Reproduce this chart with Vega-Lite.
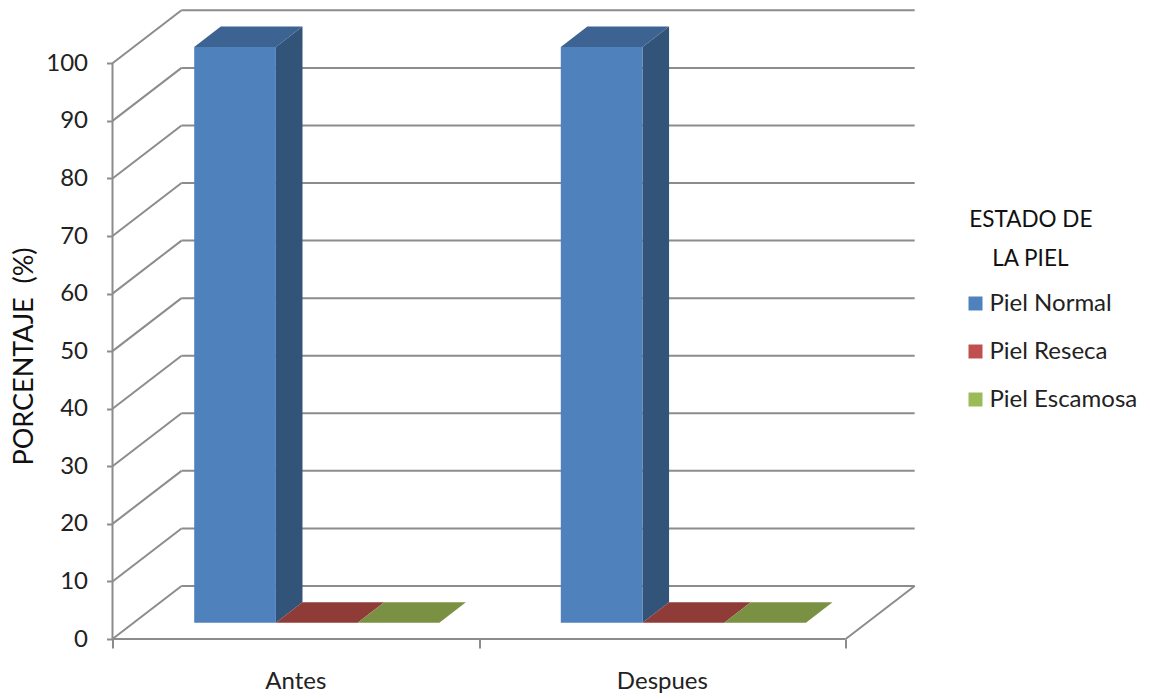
{
  "$schema": "https://vega.github.io/schema/vega-lite/v6.json",
  "width": 803.5,
  "height": 629,
  "autosize": {"type": "none"},
  "padding": {"left": 112.5, "top": 10, "right": 234, "bottom": 61},
  "background": "white",
  "datasets": {
    "barras": [
      {"momento": "Antes", "estado": "Piel Normal", "valor": 100},
      {"momento": "Antes", "estado": "Piel Reseca", "valor": 0},
      {"momento": "Antes", "estado": "Piel Escamosa", "valor": 0},
      {"momento": "Despues", "estado": "Piel Normal", "valor": 100},
      {"momento": "Despues", "estado": "Piel Reseca", "valor": 0},
      {"momento": "Despues", "estado": "Piel Escamosa", "valor": 0}
    ],
    "marcas": [
      {"valor": 0}, {"valor": 10}, {"valor": 20}, {"valor": 30}, {"valor": 40}, {"valor": 50},
      {"valor": 60}, {"valor": 70}, {"valor": 80}, {"valor": 90}, {"valor": 100}
    ]
  },
  "config": {
    "view": {"stroke": null},
    "font": "Lato",
    "axis": {"grid": false}
  },
  "data": {"name": "barras"},
  "transform": [
    {"calculate": "datum.momento === 'Antes' ? 0 : 1", "as": "grupo"},
    {"calculate": "datum.estado === 'Piel Normal' ? 0 : datum.estado === 'Piel Reseca' ? 1 : 2", "as": "serie"},
    {"calculate": "datum.grupo + 0.165 + datum.serie * 0.2229", "as": "izq"},
    {"calculate": "[0.3075, 0.6925]", "as": "prof"},
    {"flatten": ["prof"]},
    {"calculate": "datum.izq + datum.prof * 0.1882", "as": "xa"},
    {"calculate": "datum.xa + 0.2229", "as": "xb"},
    {"calculate": "datum.prof * 9.206", "as": "base"},
    {"calculate": "datum.valor + datum.base", "as": "cima"}
  ],
  "layer": [
    {
      "data": {"name": "marcas"},
      "transform": [{"calculate": "datum.valor + 9.206", "as": "fondo"}],
      "mark": {"type": "rule", "color": "#8c8c8c", "strokeWidth": 2},
      "encoding": {
        "x": {"datum": 0.1882, "type": "quantitative", "scale": {"domain": [0, 2.1918], "nice": false}, "title": null,
          "axis": {"values": [0, 1, 2], "labels": false, "domain": false, "ticks": true, "tickSize": 9, "tickWidth": 2, "tickColor": "#8c8c8c", "title": null}},
        "x2": {"datum": 2.1882},
        "y": {"field": "fondo", "type": "quantitative", "scale": {"domain": [0, 109.26], "nice": false},
          "axis": {"values": [0, 10, 20, 30, 40, 50, 60, 70, 80, 90, 100], "format": "d", "domain": false, "tickSize": 6, "tickWidth": 2, "tickColor": "#8c8c8c",
            "labelFont": "Lato", "labelFontSize": 24, "labelColor": "#222222", "labelPadding": 19,
            "title": "PORCENTAJE \u00a0(%)", "titleFont": "Lato", "titleFontSize": 27, "titleFontWeight": "normal", "titleColor": "#111111", "titleX": -74, "titleY": 346, "titleAnchor": "middle"}},
        "y2": {"field": "fondo"}
      }
    },
    {
      "data": {"name": "marcas"},
      "transform": [{"calculate": "datum.valor + 9.206", "as": "fondo"}],
      "mark": {"type": "rule", "color": "#8c8c8c", "strokeWidth": 2},
      "encoding": {
        "x": {"datum": 0, "type": "quantitative"},
        "x2": {"datum": 0.1882},
        "y": {"field": "valor", "type": "quantitative"},
        "y2": {"field": "fondo"}
      }
    },
    {
      "data": {"name": "marcas"},
      "transform": [{"filter": "datum.valor === 0"}, {"calculate": "datum.valor + 9.206", "as": "fondo"}],
      "mark": {"type": "rule", "color": "#8c8c8c", "strokeWidth": 2},
      "encoding": {
        "x": {"datum": 2, "type": "quantitative"},
        "x2": {"datum": 2.1882},
        "y": {"field": "valor", "type": "quantitative"},
        "y2": {"field": "fondo"}
      }
    },
    {
      "data": {"name": "marcas"},
      "transform": [{"filter": "datum.valor === 0"}],
      "mark": {"type": "rule", "color": "#8c8c8c", "strokeWidth": 2},
      "encoding": {
        "x": {"datum": 0, "type": "quantitative"},
        "x2": {"datum": 2},
        "y": {"field": "valor", "type": "quantitative"}
      }
    },
    {
      "data": {"name": "marcas"},
      "transform": [{"filter": "datum.valor === 100"}, {"calculate": "0", "as": "origen"}],
      "mark": {"type": "rule", "color": "#8c8c8c", "strokeWidth": 2},
      "encoding": {
        "x": {"datum": 0, "type": "quantitative"},
        "y": {"field": "valor", "type": "quantitative"},
        "y2": {"field": "origen"}
      }
    },
    {
      "transform": [{"filter": "datum.valor > 0"}],
      "mark": {"type": "area", "orient": "vertical", "color": "#325479"},
      "encoding": {
        "x": {"field": "xb", "type": "quantitative", "stack": null},
        "y": {"field": "cima", "type": "quantitative", "stack": null},
        "y2": {"field": "base"},
        "detail": {"field": "momento"}
      }
    },
    {
      "mark": {"type": "area", "orient": "horizontal"},
      "encoding": {
        "y": {"field": "cima", "type": "quantitative", "stack": null},
        "x": {"field": "xa", "type": "quantitative", "stack": null},
        "x2": {"field": "xb"},
        "fill": {"field": "estado", "type": "nominal", "legend": null,
          "scale": {"domain": ["Piel Escamosa", "Piel Normal", "Piel Reseca"], "range": ["#7a9144", "#3d6392", "#8f3b38"]}},
        "detail": {"field": "momento"}
      }
    },
    {
      "transform": [{"filter": "datum.prof < 0.5"}],
      "mark": {"type": "rect"},
      "encoding": {
        "x": {"field": "xa", "type": "quantitative"},
        "x2": {"field": "xb"},
        "y": {"field": "cima", "type": "quantitative"},
        "y2": {"field": "base"},
        "color": {"field": "estado", "type": "nominal",
          "scale": {"domain": ["Piel Normal", "Piel Reseca", "Piel Escamosa"], "range": ["#4f81bd", "#c0504d", "#9bbb59"]},
          "legend": {
            "orient": "none", "legendX": 851, "legendY": 199,
            "title": ["\u200b\u00a0ESTADO DE", "\u200b\u00a0\u00a0\u00a0\u00a0\u00a0LA PIEL"],
            "titleFont": "Lato", "titleFontSize": 22.5, "titleFontWeight": "normal", "titleColor": "#111111",
            "titleLineHeight": 39, "titleAlign": "left", "titleAnchor": "start", "titlePadding": 21,
            "symbolType": "square", "symbolSize": 196, "symbolStrokeWidth": 0,
            "labelFont": "Lato", "labelFontSize": 24, "labelColor": "#222222", "labelOffset": 2, "labelLimit": 200,
            "rowPadding": 24
          }}
      }
    },
    {
      "transform": [{"filter": "datum.serie === 0 && datum.prof < 0.5"}, {"calculate": "datum.grupo + 0.5", "as": "centro"}],
      "mark": {"type": "text", "font": "Lato", "fontSize": 24, "color": "#222222", "dy": 50, "baseline": "alphabetic"},
      "encoding": {
        "x": {"field": "centro", "type": "quantitative"},
        "y": {"datum": 0, "type": "quantitative"},
        "text": {"field": "momento"}
      }
    }
  ]
}
